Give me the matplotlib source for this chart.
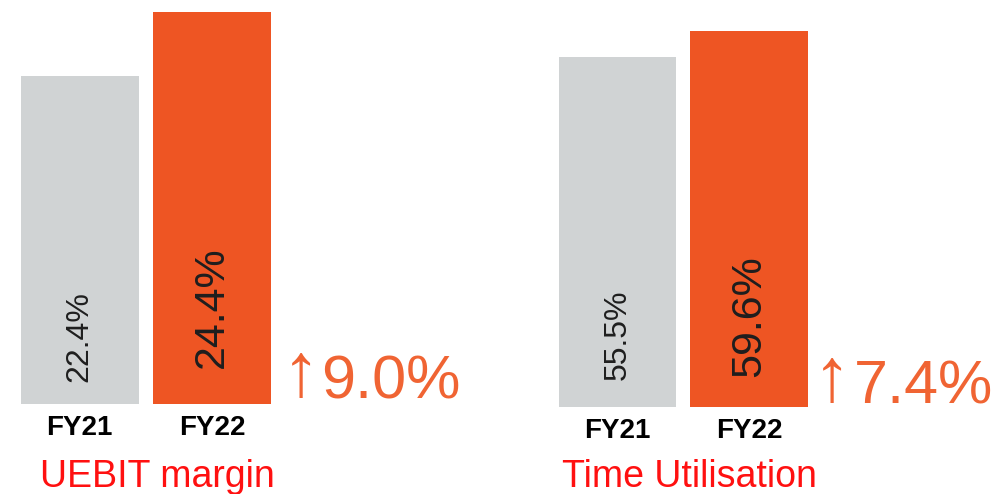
import numpy as np
import matplotlib.pyplot as plt

plt.rcParams['font.family'] = ['Liberation Sans', 'DejaVu Sans']

# data
years = ["FY21", "FY22"]
uebit_margin = [22.4, 24.4]
time_util = [55.5, 59.6]
changes = ["9.0%", "7.4%"]
titles = ["UEBIT margin", "Time Utilisation"]

gray = "#d0d3d4"
orange = "#ee5523"
arrow_col = "#f06433"
title_col = "#ff1010"

fig = plt.figure(figsize=(10, 4.94), dpi=100)

w = 0.89
# axes placed so bars sit where they do in the slide
ax1 = fig.add_axes([0.0207, 90 / 494, 0.2503, 392 / 494])
ax2 = fig.add_axes([0.5587, 87 / 494, 0.2488, 376 / 494])

panels = [
    (ax1, uebit_margin, (12.15, 24.4), [0.056, 0.092], [23, 31]),
    (ax2, time_util, (0, 59.6), [0.072, 0.08], [23, 31]),
]

x = np.arange(len(years))
for ax, vals, ylim, ypos, fs in panels:
    ax.bar(x, vals, width=w, color=[gray, orange])
    ax.set_xlim(-w / 2, 1 + w / 2)
    ax.set_ylim(*ylim)
    for s in ax.spines.values():
        s.set_visible(False)
    ax.set_yticks([])
    ax.set_xticks(x)
    ax.set_xticklabels(years, fontsize=20, fontweight="bold")
    ax.tick_params(axis="x", length=0, pad=8)
    for i, v in enumerate(vals):
        ax.text(i, ypos[i], f"{v:.1f}%", rotation=90, ha="center", va="bottom",
                fontsize=fs[i], color="#1e1e1e",
                transform=ax.get_xaxis_transform())

# change callouts: arrow + value
for ax_x, base in [(0.282, 398), (0.813, 403)]:
    fig.text(ax_x, (494 - base + 2) / 494, "↑", fontsize=55, color=arrow_col,
             ha="left", va="baseline")
for num_x, base, txt in [(0.321, 398, changes[0]), (0.854, 403, changes[1])]:
    fig.text(num_x, (494 - base) / 494, txt, fontsize=44, color=arrow_col,
             ha="left", va="baseline")

# panel titles
fig.text(0.040, (494 - 487) / 494, titles[0], fontsize=27, color=title_col,
         ha="left", va="baseline")
fig.text(0.562, (494 - 487) / 494, titles[1], fontsize=27, color=title_col,
         ha="left", va="baseline")

fig.savefig("out.png", dpi=100)
